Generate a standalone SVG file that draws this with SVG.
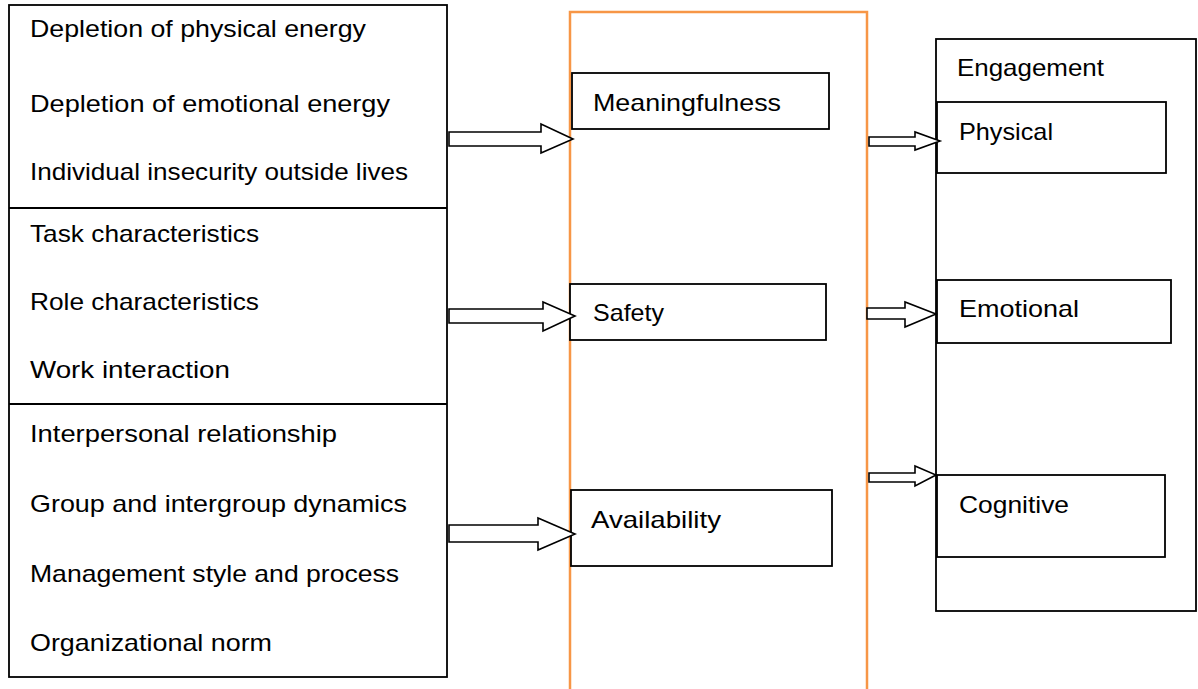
<svg xmlns="http://www.w3.org/2000/svg" width="1198" height="689" viewBox="0 0 1198 689">
<style>
.box{fill:#fff;stroke:#000;stroke-width:1.8}
.inner{fill:none;stroke:#000;stroke-width:1.8}
.orange{fill:#fff;stroke:#F79646;stroke-width:2.5}
.arrow{fill:#fff;stroke:#000;stroke-width:1.6;stroke-linejoin:miter}
text{font-family:"Liberation Sans",Arial,sans-serif;font-size:24px;fill:#000}
</style>
<rect width="1198" height="689" fill="#fff"/>
<g id="left-factors">
<rect class="box" x="9" y="5" width="438" height="672"/>
<line class="inner" x1="9" y1="208" x2="447" y2="208"/>
<line class="inner" x1="9" y1="404" x2="447" y2="404"/>
<text x="30" y="37" textLength="336" lengthAdjust="spacingAndGlyphs">Depletion of physical energy</text>
<text x="30" y="112" textLength="360" lengthAdjust="spacingAndGlyphs">Depletion of emotional energy</text>
<text x="30" y="180" textLength="378" lengthAdjust="spacingAndGlyphs">Individual insecurity outside lives</text>
<text x="30" y="242" textLength="229" lengthAdjust="spacingAndGlyphs">Task characteristics</text>
<text x="30" y="310" textLength="229" lengthAdjust="spacingAndGlyphs">Role characteristics</text>
<text x="30" y="378" textLength="200" lengthAdjust="spacingAndGlyphs">Work interaction</text>
<text x="30" y="442" textLength="307" lengthAdjust="spacingAndGlyphs">Interpersonal relationship</text>
<text x="30" y="512" textLength="377" lengthAdjust="spacingAndGlyphs">Group and intergroup dynamics</text>
<text x="30" y="582" textLength="369" lengthAdjust="spacingAndGlyphs">Management style and process</text>
<text x="30" y="651" textLength="242" lengthAdjust="spacingAndGlyphs">Organizational norm</text>
</g>
<g id="psychological-conditions">
<rect class="orange" x="570" y="12" width="297" height="690"/>
</g>
<g id="meaningfulness">
<rect class="box" x="572" y="73" width="257" height="56"/>
<text x="593" y="111" textLength="188" lengthAdjust="spacingAndGlyphs">Meaningfulness</text>
</g>
<g id="safety">
<rect class="box" x="570" y="284" width="256" height="56"/>
<text x="593" y="321" textLength="71" lengthAdjust="spacingAndGlyphs">Safety</text>
</g>
<g id="availability">
<rect class="box" x="571" y="490" width="261" height="76"/>
<text x="591" y="528" textLength="130" lengthAdjust="spacingAndGlyphs">Availability</text>
</g>
<g id="engagement">
<rect class="box" x="936" y="39" width="260" height="572"/>
<text x="957" y="76" textLength="147" lengthAdjust="spacingAndGlyphs">Engagement</text>
</g>
<g id="physical">
<rect class="box" x="937" y="102" width="229" height="71"/>
<text x="959" y="140" textLength="94" lengthAdjust="spacingAndGlyphs">Physical</text>
</g>
<g id="emotional">
<rect class="box" x="937" y="280" width="234" height="63"/>
<text x="959" y="317" textLength="120" lengthAdjust="spacingAndGlyphs">Emotional</text>
</g>
<g id="cognitive">
<rect class="box" x="937" y="475" width="228" height="82"/>
<text x="959" y="513" textLength="110" lengthAdjust="spacingAndGlyphs">Cognitive</text>
</g>
<g id="connectors">
<polygon class="arrow" points="449,132 541,132 541,124 573,139 541,153 541,146 449,146"/>
<polygon class="arrow" points="449,309 543,309 543,302 575,316 543,331 543,323 449,323"/>
<polygon class="arrow" points="449,525 538,525 538,518 575,534 538,550 538,542 449,542"/>
<polygon class="arrow" points="869,137 915,137 915,132 940,141 915,150 915,146 869,146"/>
<polygon class="arrow" points="867,308 905,308 905,302 936,314 905,327 905,319 867,319"/>
<polygon class="arrow" points="869,473 915,473 915,466 936,475 915,486 915,482 869,482"/>
</g>
</svg>
